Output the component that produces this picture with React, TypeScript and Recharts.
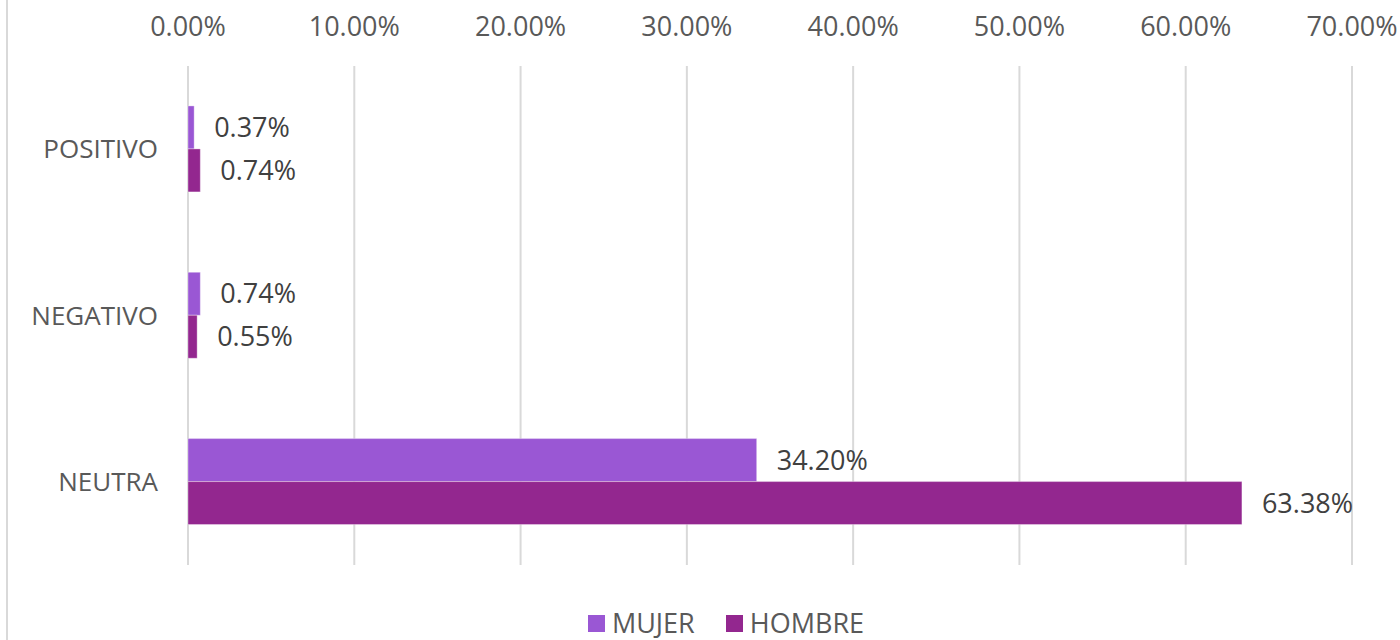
import React from "react";
import { BarChart, Bar, XAxis, YAxis, CartesianGrid, LabelList, Legend } from "recharts";

const categories = ["POSITIVO", "NEGATIVO", "NEUTRA"];
const mujer = [0.0037, 0.0074, 0.342];
const hombre = [0.0074, 0.0055, 0.6338];
const xTicks = [0, 0.1, 0.2, 0.3, 0.4, 0.5, 0.6, 0.7];
const seriesNames = ["MUJER", "HOMBRE"];
const seriesColors = ["#9A57D4", "#93278F"];

const data = categories.map((c, i) => ({ name: c, MUJER: mujer[i], HOMBRE: hombre[i] }));

const FONT = "'Open Sans', sans-serif";
const pct = (v: any) => `${(Number(v) * 100).toFixed(2)}%`;

const LegendContent = () => (
  <div
    style={{
      display: "flex",
      justifyContent: "center",
      alignItems: "center",
      paddingLeft: 100,
      paddingTop: 41,
      height: 34,
      fontFamily: FONT,
      fontSize: 27,
      color: "#595959",
    }}
  >
    {seriesNames.map((n, i) => (
      <div key={n} style={{ display: "flex", alignItems: "center", marginRight: i === 0 ? 31 : 0 }}>
        <div style={{ width: 17, height: 17, background: seriesColors[i], marginRight: 7 }} />
        <span style={{ lineHeight: "30px" }}>{n}</span>
      </div>
    ))}
  </div>
);

export default function App() {
  return (
    <div style={{ position: "absolute", left: 0, top: 0, width: 1400, height: 640, background: "#fff", overflow: "hidden" }}>
      <div style={{ position: "absolute", left: 6, top: 0, width: 2, height: 640, background: "#D9D9D9" }} />
      <BarChart
        width={1400}
        height={640}
        data={data}
        layout="vertical"
        margin={{ top: 0, right: 48, bottom: 0, left: 0 }}
        barCategoryGap="24%"
        barGap={0}
      >
        <CartesianGrid horizontal={false} stroke="#D9D9D9" strokeWidth={2} />
        <XAxis
          type="number"
          orientation="top"
          domain={[0, 0.7]}
          ticks={xTicks}
          tickFormatter={pct}
          axisLine={false}
          tickLine={false}
          height={66}
          tickMargin={24}
          interval={0}
          tick={{ fill: "#595959", fontSize: 27, fontFamily: FONT }}
        />
        <YAxis
          type="category"
          dataKey="name"
          width={188}
          axisLine={false}
          tickLine={false}
          tickMargin={24}
          tick={{ fill: "#595959", fontSize: 26, fontFamily: FONT }}
        />
        <Legend verticalAlign="bottom" content={<LegendContent />} />
        {seriesNames.map((n, i) => (
          <Bar
            key={n}
            dataKey={n}
            fill={seriesColors[i]}
            stroke="rgba(255,255,255,0.35)"
            strokeWidth={1}
            isAnimationActive={false}
          >
            <LabelList
              dataKey={n}
              position="right"
              offset={20}
              formatter={pct}
              style={{ fill: "#404040", fontSize: 27, fontFamily: FONT }}
            />
          </Bar>
        ))}
      </BarChart>
    </div>
  );
}
